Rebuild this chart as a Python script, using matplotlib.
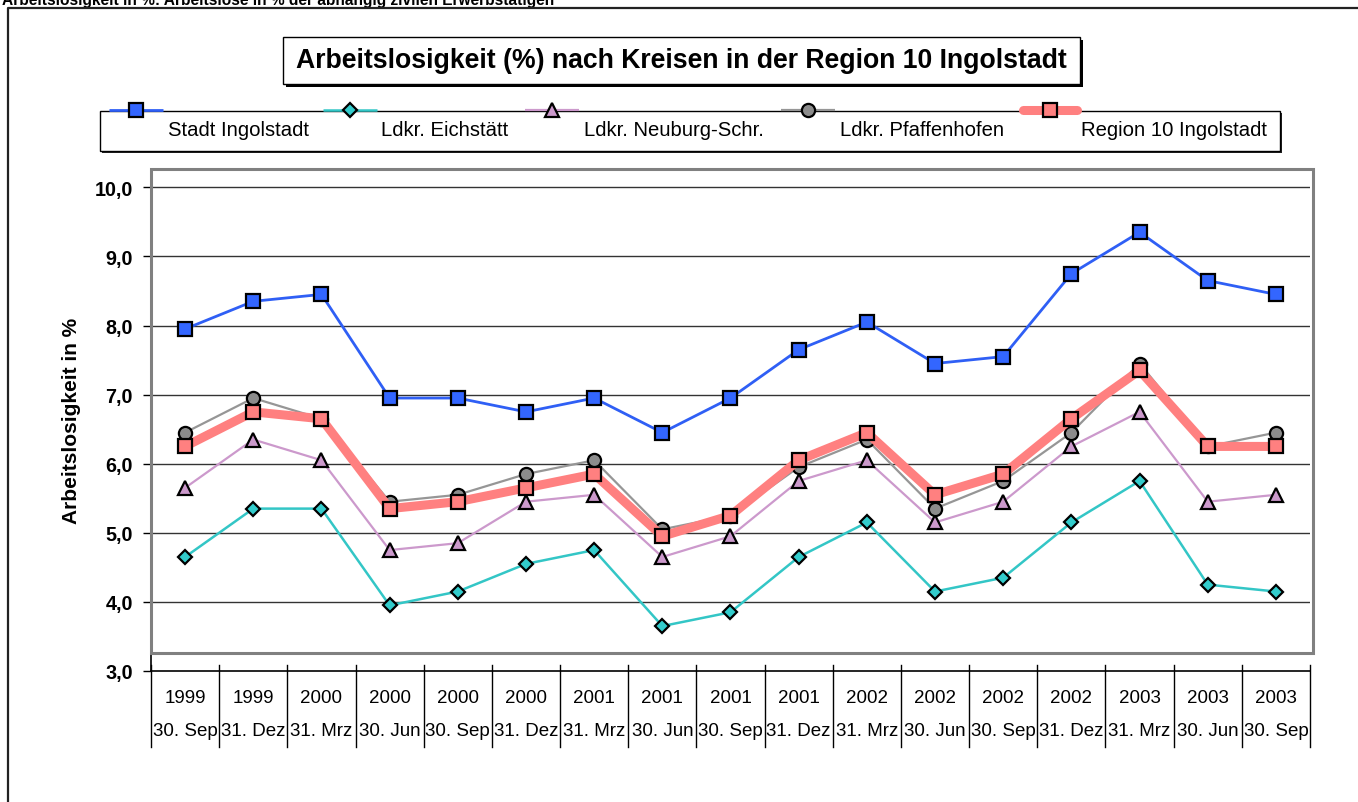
import matplotlib
matplotlib.use("Agg")
import matplotlib.pyplot as plt
from matplotlib.patches import Rectangle
from matplotlib.lines import Line2D

plt.rcParams['font.family'] = ['Liberation Sans', 'DejaVu Sans']

# data (Arbeitslosenquote in %)
years = ["1999", "1999", "2000", "2000", "2000", "2000", "2001", "2001", "2001",
         "2001", "2002", "2002", "2002", "2002", "2003", "2003", "2003"]
dates = ["30. Sep", "31. Dez", "31. Mrz", "30. Jun", "30. Sep", "31. Dez", "31. Mrz",
         "30. Jun", "30. Sep", "31. Dez", "31. Mrz", "30. Jun", "30. Sep", "31. Dez",
         "31. Mrz", "30. Jun", "30. Sep"]
stadt_ingolstadt = [7.95, 8.35, 8.45, 6.95, 6.95, 6.75, 6.95, 6.45, 6.95, 7.65, 8.05,
                    7.45, 7.55, 8.75, 9.35, 8.65, 8.45]
ldkr_eichstaett = [4.65, 5.35, 5.35, 3.95, 4.15, 4.55, 4.75, 3.65, 3.85, 4.65, 5.15,
                   4.15, 4.35, 5.15, 5.75, 4.25, 4.15]
ldkr_neuburg = [5.65, 6.35, 6.05, 4.75, 4.85, 5.45, 5.55, 4.65, 4.95, 5.75, 6.05,
                5.15, 5.45, 6.25, 6.75, 5.45, 5.55]
ldkr_pfaffenhofen = [6.45, 6.95, 6.65, 5.45, 5.55, 5.85, 6.05, 5.05, 5.25, 5.95, 6.35,
                     5.35, 5.75, 6.45, 7.45, 6.25, 6.45]
region_10 = [6.25, 6.75, 6.65, 5.35, 5.45, 5.65, 5.85, 4.95, 5.25, 6.05, 6.45,
             5.55, 5.85, 6.65, 7.35, 6.25, 6.25]

series = [
    ("Stadt Ingolstadt", stadt_ingolstadt, "#2f5ff5", "#3366ff", "s", 10.5, 2.0),
    ("Ldkr. Eichstätt", ldkr_eichstaett, "#33c6c6", "#33cccc", "D", 7.5, 1.8),
    ("Ldkr. Neuburg-Schr.", ldkr_neuburg, "#cc99cc", "#cc99cc", "^", 10.5, 1.6),
    ("Ldkr. Pfaffenhofen", ldkr_pfaffenhofen, "#969696", "#8c8c8c", "o", 9.5, 1.6),
    ("Region 10 Ingolstadt", region_10, "#ff8080", "#ff8080", "s", 10.0, 6.5),
]

W, H = 1358, 803
fig = plt.figure(figsize=(W / 100, H / 100), dpi=100)

# plot area in pixels
left, right, top, bottom = 151, 1310, 170, 672
px_per_unit = 69.1
ax = fig.add_axes([left / W, (H - bottom) / H, (right - left) / W, (bottom - top) / H])
ax.set_facecolor("none")
ax.set_xlim(-0.5, len(years) - 0.5)
ax.set_ylim(3.0, 3.0 + (bottom - top) / px_per_unit)

x = list(range(len(years)))
for i, (name, vals, lc, fc, mk, ms, lw) in enumerate(series):
    ax.plot(x, vals, color=lc, lw=lw, marker=mk, markersize=ms, markerfacecolor=fc,
            markeredgecolor="black", markeredgewidth=1.6, zorder=3 + i, clip_on=False)

yt = [3, 4, 5, 6, 7, 8, 9, 10]
ax.set_yticks(yt)
ax.set_yticklabels([f"{v:.1f}".replace(".", ",") for v in yt], fontsize=14.2, fontweight="bold")
ax.tick_params(axis="y", direction="out", length=6, width=1, pad=7)
for v in yt[1:]:
    ax.axhline(v, color="#333333", lw=1.0, zorder=1)
ax.set_xticks([])
for s in ["top", "right"]:
    ax.spines[s].set_visible(False)
ax.spines["bottom"].set_linewidth(1.2)
ax.spines["left"].set_linewidth(1.2)
ax.set_ylabel("Arbeitslosigkeit in %", fontsize=15, fontweight="bold", labelpad=10)

# category axis: two-level labels with separators
trans = ax.get_xaxis_transform()
h = bottom - top
for i in range(len(years)):
    ax.text(i, -27 / h, years[i], transform=trans, ha="center", va="center", fontsize=13.5)
    ax.text(i, -60 / h, dates[i], transform=trans, ha="center", va="center", fontsize=13.5)
for i in range(len(years) + 1):
    ax.plot([i - 0.5, i - 0.5], [6 / h, -76 / h], transform=trans, color="black",
            lw=1.0, clip_on=False)

# decorations in pixel coordinates
deco = fig.add_axes([0, 0, 1, 1], zorder=10)
deco.set_xlim(0, W)
deco.set_ylim(H, 0)
deco.axis("off")
deco.patch.set_alpha(0)

# outer chart frame (runs off the page right and bottom)
deco.plot([8, 8, W + 5], [H + 5, 9, 9], color="#222222", lw=1.6)
# inner plot frame (grey)
deco.add_patch(Rectangle((left, top), 1313 - left, 654 - top, fill=False,
                         edgecolor="#808080", lw=2.2))

# page heading, cut off at top edge
fig.text(2 / W, 1 - 0 / H, "Arbeitslosigkeit in %: Arbeitslose in % der abhängig zivilen Erwerbstätigen",
         fontsize=11.2, fontweight="bold", ha="left", va="center")

# chart title box with shadow
deco.add_patch(Rectangle((286, 41), 797, 47, facecolor="black", edgecolor="none"))
deco.add_patch(Rectangle((283, 38), 797, 47, facecolor="white", edgecolor="black", lw=1.0))
deco.text(681, 61, "Arbeitslosigkeit (%) nach Kreisen in der Region 10 Ingolstadt",
          ha="center", va="center", fontsize=19.2, fontweight="bold")

# legend box
deco.add_patch(Rectangle((102, 114), 1180, 40, facecolor="#222222", edgecolor="none"))
deco.add_patch(Rectangle((100, 112), 1180, 40, facecolor="white", edgecolor="black", lw=1.0))
sample_x = [136, 350, 552, 808, 1050]
label_x = [168, 381, 584, 840, 1081]
for (name, vals, lc, fc, mk, ms, lw), sx, lx in zip(series, sample_x, label_x):
    deco.add_line(Line2D([sx - 27, sx + 27], [111, 111], color=lc, lw=lw,
                         solid_capstyle="round" if lw > 3 else "butt"))
    deco.add_line(Line2D([sx], [111], marker=mk, markersize=ms, markerfacecolor=fc,
                         markeredgecolor="black", markeredgewidth=1.6))
    deco.text(lx, 131, name, ha="left", va="center", fontsize=14.6)

fig.savefig("out.png", dpi=100, facecolor="white")
